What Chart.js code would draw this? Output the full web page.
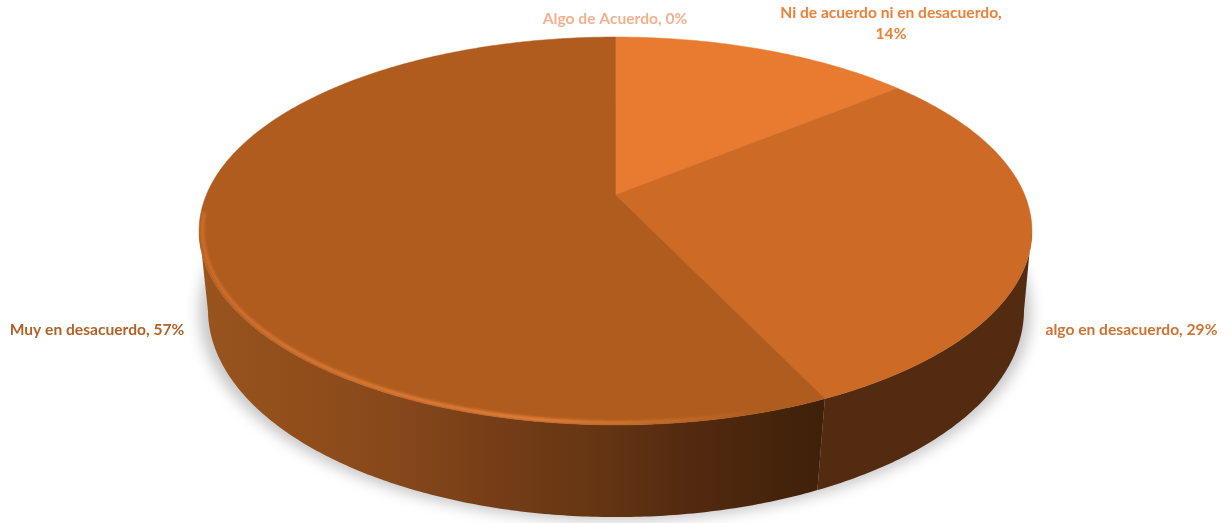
<!DOCTYPE html>
<html lang="es">
<head>
<meta charset="utf-8">
<title>Grado de acuerdo</title>
<style>
html,body{margin:0;padding:0;background:#fff}
#wrap{width:1232px;height:523px}
canvas{display:block}
</style>
<script src="https://cdn.jsdelivr.net/npm/chart.js@4/dist/chart.umd.js"></script>
</head>
<body>
<div id="wrap"><canvas id="pie" width="1232" height="523"></canvas></div>
<script>
// Chart values
const categories = ['Algo de Acuerdo', 'Ni de acuerdo ni en desacuerdo', 'algo en desacuerdo', 'Muy en desacuerdo'];
const percentages = [0, 14, 29, 57];
const sliceColors = ['#F4B183', '#E97B30', '#CC6A26', '#AF5C1E'];
const labelColors = ['#F3B08E', '#EC8038', '#CF7233', '#B0622A'];

// Where each label sits: one entry per line of text
const labelLines = [
  [{ suffix: true, x: 615, y: 19 }],
  [{ head: true, x: 891, y: 13 }, { tail: true, x: 891, y: 34 }],
  [{ suffix: true, x: 1131.5, y: 330 }],
  [{ suffix: true, x: 97, y: 330 }]
];

// Perspective projection of the unit disc for the top face and the base of the pie
const topDisc = { cx: 615.5, y0: 195, A: 409.2, B: 187.3, k: -0.1856 };
const baseDisc = { cx: 616, y0: 275.9, A: 402.4, B: 201.4, k: -0.165 };

// The wall is visible between its two silhouette lines
const wallFrom = 1.74, wallTo = 4.54;

function project(d, theta, r = 1) {
  const X = r * Math.sin(theta), Y = -r * Math.cos(theta), w = 1 + d.k * Y;
  return [d.cx + d.A * X / w, d.y0 + d.B * Y / w];
}

function arcPath(ctx, d, a0, a1, r = 1, move = true) {
  const n = Math.max(2, Math.ceil(Math.abs(a1 - a0) / 0.01));
  for (let i = 0; i <= n; i++) {
    const p = project(d, a0 + (a1 - a0) * i / n, r);
    if (i === 0 && move) ctx.moveTo(p[0], p[1]); else ctx.lineTo(p[0], p[1]);
  }
}

function wallFill(ctx, index) {
  if (index === 2) return '#522B10';
  const g = ctx.createLinearGradient(200, 0, 826, 0);
  g.addColorStop(0, '#99541E');
  g.addColorStop(0.16, '#914E1B');
  g.addColorStop(0.33, '#85471A');
  g.addColorStop(0.48, '#743D17');
  g.addColorStop(0.64, '#653513');
  g.addColorStop(0.78, '#532A10');
  g.addColorStop(1, '#3E2009');
  return g;
}

const tiltedPie = {
  id: 'tiltedPie',
  // The library works out every slice's angles; the slices are drawn here in perspective
  beforeDatasetDraw(chart, args) {
    const ctx = chart.ctx;
    const arcs = args.meta.data.map((el, i) => ({
      i,
      a0: el.startAngle + Math.PI / 2,
      a1: el.endAngle + Math.PI / 2,
      color: el.options.backgroundColor
    })).filter(s => s.a1 > s.a0);

    // Soft shadow under the base
    ctx.save();
    ctx.filter = 'blur(7px)';
    ctx.fillStyle = 'rgba(0,0,0,0.22)';
    ctx.beginPath();
    ctx.ellipse(615, 312, 416, 209, 0, 0, Math.PI * 2);
    ctx.fill();
    ctx.restore();

    // Outer wall: one ribbon per slice from the rim down to the base
    ctx.save();
    arcs.forEach(s => {
      const a0 = Math.max(s.a0, wallFrom), a1 = Math.min(s.a1, wallTo);
      if (a1 <= a0) return;
      ctx.fillStyle = wallFill(ctx, s.i);
      ctx.beginPath();
      arcPath(ctx, topDisc, a0, a1);
      arcPath(ctx, baseDisc, a1, a0, 1, false);
      ctx.closePath();
      ctx.fill();
    });
    ctx.restore();

    // Top face
    ctx.save();
    ctx.filter = 'blur(0.7px)';
    arcs.forEach(s => {
      const c = project(topDisc, 0, 0);
      ctx.fillStyle = s.color;
      ctx.strokeStyle = s.color;
      ctx.lineWidth = 0.5;
      ctx.beginPath();
      ctx.moveTo(c[0], c[1]);
      arcPath(ctx, topDisc, s.a0, s.a1, 1, false);
      ctx.closePath();
      ctx.fill();
      ctx.stroke();
    });
    ctx.restore();

    // Bevel highlight along the front-left rim of the largest slice
    const big = arcs[arcs.length - 1];
    ctx.save();
    ctx.beginPath();
    arcPath(ctx, topDisc, big.a0, big.a1);
    ctx.lineTo(project(topDisc, 0, 0)[0], project(topDisc, 0, 0)[1]);
    ctx.closePath();
    ctx.clip();
    const hl = ctx.createLinearGradient(199, 0, 770, 0);
    hl.addColorStop(0, 'rgba(226,124,54,0.6)');
    hl.addColorStop(0.15, 'rgba(226,124,54,0.9)');
    hl.addColorStop(0.6, 'rgba(236,132,62,1)');
    hl.addColorStop(0.85, 'rgba(230,128,58,0.4)');
    hl.addColorStop(1, 'rgba(226,124,54,0)');
    ctx.filter = 'blur(1.4px)';
    ctx.strokeStyle = hl;
    ctx.lineWidth = 3.5;
    ctx.beginPath();
    arcPath(ctx, topDisc, big.a0 + 0.12, 4.62, 0.992);
    ctx.stroke();
    ctx.restore();

    return false;
  },
  // Data labels, built from the category name and its value
  afterDraw(chart) {
    const ctx = chart.ctx;
    ctx.save();
    ctx.font = 'bold 15.6px Lato, "Open Sans", sans-serif';
    ctx.textAlign = 'center';
    ctx.textBaseline = 'middle';
    labelLines.forEach((lines, i) => {
      ctx.fillStyle = labelColors[i];
      lines.forEach(l => {
        let text = categories[i] + ', ' + percentages[i] + '%';
        if (l.head) text = categories[i] + ',';
        if (l.tail) text = percentages[i] + '%';
        ctx.fillText(text, l.x, l.y);
      });
    });
    ctx.restore();
  }
};

new Chart(document.getElementById('pie'), {
  type: 'pie',
  data: {
    labels: categories,
    datasets: [{ data: percentages, backgroundColor: sliceColors, borderWidth: 0 }]
  },
  options: {
    responsive: false,
    animation: false,
    plugins: { legend: { display: false }, tooltip: { enabled: false } }
  },
  plugins: [tiltedPie]
});
</script>
</body>
</html>
